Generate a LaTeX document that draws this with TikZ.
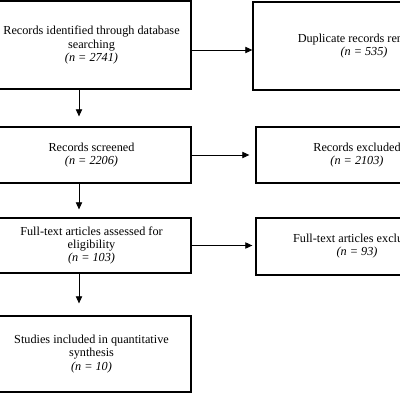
\documentclass[tikz,border=0pt]{standalone}
\usepackage{fontspec}
\setmainfont{Liberation Serif}
\usepackage{tikz}
\usetikzlibrary{positioning,arrows.meta}

\tikzset{
  flowbox/.style={draw=black, line width=0.9pt, align=center,
    font=\fontsize{8.7}{9.3}\selectfont, inner sep=2pt},
  flowarrow/.style={line width=0.6pt, -{Triangle[length=5pt,width=4.5pt]}}
}

\begin{document}
\begin{tikzpicture}[x=0.025cm, y=-0.025cm]
  \useasboundingbox (0,0) rectangle (400,400);
  \clip (0,0) rectangle (400,400);

  % left column
  \node[flowbox, minimum width=4.975cm, minimum height=2.2cm] (ident) at (91.5,45)
    {Records identified through database\\searching\\\textit{(n = 2741)}};
  \node[flowbox, minimum width=4.975cm, minimum height=1.4cm] (screen) at (91.5,155)
    {Records screened\\\textit{(n = 2206)}};
  \node[flowbox, minimum width=4.975cm, minimum height=1.375cm] (fulltext) at (91.5,245.5)
    {Full-text articles assessed for\\eligibility\\\textit{(n = 103)}};
  \node[flowbox, minimum width=4.975cm, minimum height=1.9cm] (included) at (91.5,354)
    {Studies included in quantitative\\synthesis\\\textit{(n = 10)}};

  % right column
  \node[flowbox, minimum width=5.55cm, minimum height=2.2cm] (dup) at (364,46)
    {Duplicate records removed\\\textit{(n = 535)}};
  \node[flowbox, minimum width=5.05cm, minimum height=1.4cm] (excl) at (357,155)
    {Records excluded\\\textit{(n = 2103)}};
  \node[flowbox, minimum width=5.05cm, minimum height=1.425cm] (ftexcl) at (357,246.5)
    {Full-text articles excluded\\\textit{(n = 93)}};

  % arrows
  \draw[flowarrow] ([yshift=-0.125cm]ident.east) coordinate (a1) -- (a1 -| dup.west);
  \draw[flowarrow, shorten >=0.15cm] (screen.east) -- (screen.east -| excl.west);
  \draw[flowarrow, shorten >=0.075cm] (fulltext.east) -- (fulltext.east -| ftexcl.west);

  \draw[flowarrow, shorten >=0.25cm] ([xshift=-0.3125cm]ident.south) coordinate (d1) -- (d1 |- screen.north);
  \draw[flowarrow, shorten >=0.2cm] ([xshift=-0.3125cm]screen.south) coordinate (d2) -- (d2 |- fulltext.north);
  \draw[flowarrow, shorten >=0.3cm] ([xshift=-0.3125cm]fulltext.south) coordinate (d3) -- (d3 |- included.north);
\end{tikzpicture}
\end{document}
